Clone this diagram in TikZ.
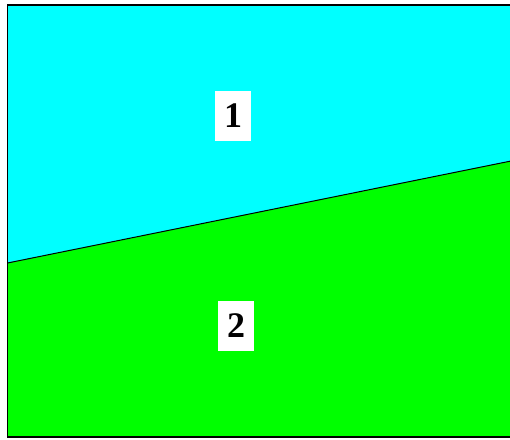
\documentclass[tikz,border=0pt]{standalone}
\usepackage{fontspec}
\setmainfont{Liberation Serif}
\definecolor{regioncyan}{RGB}{0,255,255}
\definecolor{regiongreen}{RGB}{0,255,0}
\begin{document}
\begin{tikzpicture}[x=1pt,y=-1pt]
\tikzset{regionlabel/.style={fill=white, font=\fontsize{36}{36}\selectfont\bfseries, minimum width=36pt, minimum height=50pt, inner sep=0pt}}
\useasboundingbox (0,0) rectangle (510,439);

% Region 1 (top)
\fill[regioncyan] (7.5,5) -- (511,5) -- (511,161) -- (7.5,263) -- cycle;

% Region 2 (bottom)
\fill[regiongreen] (7.5,263) -- (511,161) -- (511,437) -- (7.5,437) -- cycle;

% Interface
\coordinate (left) at (7.5,263);
\coordinate (right) at (511,161);
\draw[line width=1pt] (left) -- (right);

% Outer frame
\draw[line width=1.6pt] (7.5,5) rectangle (512,437);

% Labels
\node[regionlabel] (one) at (233,116) {1};
\node[regionlabel] (two) at (236,326) {2};
\end{tikzpicture}
\end{document}
